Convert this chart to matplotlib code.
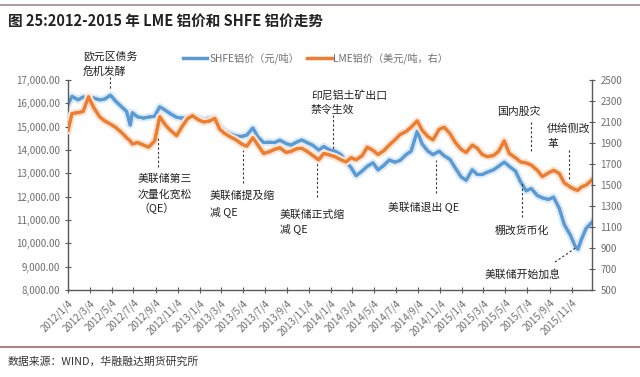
import matplotlib
matplotlib.use("Agg")
import matplotlib.pyplot as plt
import matplotlib.patheffects as pe
from matplotlib.lines import Line2D
import pandas as pd

plt.rcParams['font.family'] = ['Noto Sans CJK SC', 'DejaVu Sans']

# half-month readings, plus a few extra points at spikes
dates = [
    "2012-01-04", "2012-01-15", "2012-02-01", "2012-02-15", "2012-03-01", "2012-03-15",
    "2012-04-01", "2012-04-15", "2012-05-01", "2012-05-15", "2012-06-01", "2012-06-15",
    "2012-06-25", "2012-07-01", "2012-07-15", "2012-08-01", "2012-08-15", "2012-09-01",
    "2012-09-15", "2012-10-01", "2012-10-15", "2012-11-01", "2012-11-15", "2012-12-01",
    "2012-12-15",
    "2013-01-01", "2013-01-15", "2013-02-01", "2013-02-15", "2013-03-01", "2013-03-15",
    "2013-04-01", "2013-04-15", "2013-05-01", "2013-05-15", "2013-06-01", "2013-06-15",
    "2013-07-01", "2013-07-15", "2013-08-01", "2013-08-15", "2013-09-01", "2013-09-15",
    "2013-10-01", "2013-10-15", "2013-11-01", "2013-11-15", "2013-12-01", "2013-12-15",
    "2014-01-01", "2014-01-15", "2014-02-01", "2014-02-15", "2014-03-01", "2014-03-15",
    "2014-04-01", "2014-04-15", "2014-05-01", "2014-05-15", "2014-06-01", "2014-06-15",
    "2014-07-01", "2014-07-15", "2014-08-01", "2014-08-15", "2014-09-01", "2014-09-15",
    "2014-10-01", "2014-10-15", "2014-11-01", "2014-11-15", "2014-12-01", "2014-12-15",
    "2015-01-01", "2015-01-15", "2015-02-01", "2015-02-15", "2015-03-01", "2015-03-15",
    "2015-04-01", "2015-04-15", "2015-05-01", "2015-05-15", "2015-06-01", "2015-06-15",
    "2015-07-01", "2015-07-15", "2015-08-01", "2015-08-15", "2015-09-01", "2015-09-15",
    "2015-10-01", "2015-10-15", "2015-11-01", "2015-11-15", "2015-11-22", "2015-12-01",
    "2015-12-15", "2015-12-31",
]

# SHFE aluminium, yuan/ton (left axis)
shfe = [
    15950, 16300, 16150, 16270, 16230, 16230, 16150, 16180, 16350, 16100, 15850, 15650,
    15070, 15600, 15420, 15370, 15410, 15450, 15850, 15700, 15550, 15400, 15370, 15380,
    15410,
    15370, 15290, 15350, 15370, 15000, 14800, 14680, 14600, 14580, 14640, 14940, 14560,
    14320, 14330, 14320, 14420, 14280, 14210, 14340, 14430, 14300, 14200, 14000, 14150,
    14000, 13950, 13800, 13500, 13250, 12900, 13100, 13300, 13450, 13150, 13350, 13570,
    13480, 13550, 13800, 13950, 14800, 14250, 13950, 13800, 13950, 13750, 13600, 13250,
    12850, 12700, 13150, 12950, 12950, 13050, 13150, 13300, 13480, 13300, 13100, 12650,
    12250, 12350, 12050, 11950, 11880, 11980, 11500, 10800, 10350, 9850, 9750, 10150,
    10650, 10900,
]

# LME aluminium, usd/ton (right axis)
lme = [
    2020, 2180, 2190, 2200, 2340, 2240, 2150, 2110, 2080, 2050, 2000, 1950,
    1920, 1890, 1905, 1880, 1860, 1920, 2150, 2070, 2020, 1970, 2050, 2130,
    2160,
    2120, 2100, 2110, 2135, 2030, 1990, 1955, 1930, 1890, 1870, 1950, 1880,
    1800, 1815, 1840, 1855, 1810, 1820, 1845, 1850, 1815, 1780, 1740, 1800,
    1785, 1770, 1740, 1720, 1760, 1740, 1780, 1860, 1830, 1790, 1830, 1880,
    1930, 1980, 2010, 2050, 2110, 2020, 1960, 1930, 2030, 2050, 1990, 1910,
    1840, 1810, 1880, 1850, 1790, 1770, 1780, 1820, 1920, 1800, 1760, 1720,
    1710, 1690, 1640, 1580, 1615, 1640, 1610, 1520, 1480, 1455, 1450, 1480,
    1500, 1550,
]

tick_dates = [
    "2012-01-04", "2012-03-04", "2012-05-04", "2012-07-04", "2012-09-04", "2012-11-04",
    "2013-01-04", "2013-03-04", "2013-05-04", "2013-07-04", "2013-09-04", "2013-11-04",
    "2014-01-04", "2014-03-04", "2014-05-04", "2014-07-04", "2014-09-04", "2014-11-04",
    "2015-01-04", "2015-03-04", "2015-05-04", "2015-07-04", "2015-09-04", "2015-11-04",
]

# (text lines, text x, first line y, line gap, dashed line x1, y1, x2, y2) in pixels
notes = [
    (["欧元区债务", "危机发酵"], 83, 57, 15, 110, 77, 110, 90),
    (["美联储第三", "次量化宽松", "（QE）"], 138, 179, 15, 158, 167, 158, 137),
    (["美联储提及缩", "减 QE"], 210, 196, 16, 243, 183, 243, 150),
    (["美联储正式缩", "减 QE"], 280, 215, 14, 317, 197, 317, 163),
    (["印尼铝土矿出口", "禁令生效"], 311, 95, 15, 333, 115, 333, 150),
    (["美联储退出 QE"], 388, 207, 0, 436, 193, 436, 160),
    (["国内股灾"], 497, 112, 0, 531, 122, 531, 153),
    (["棚改货币化"], 495, 231, 0, 522, 217, 522, 183),
    (["供给侧改", "革"], 547, 129, 15, 569, 150, 569, 180),
    (["美联储开始加息"], 485, 275, 0, 555, 262, 577, 247),
]

W, H = 640, 377
blue = "#5b9bd5"
orange = "#ed7d31"
grey = "#6e6e6e"


def fx(x):
    return x / W


def fy(y):
    return 1 - y / H


d = pd.to_datetime(dates)
fig = plt.figure(figsize=(6.4, 3.77), dpi=100)
ax = fig.add_axes([fx(68), fy(290), fx(592) - fx(68), fy(80) - fy(290)])
ax2 = ax.twinx()

glow_b = [pe.withStroke(linewidth=5.5, foreground="#dde9f5"), pe.Normal()]
glow_o = [pe.withStroke(linewidth=5.5, foreground="#fbe3d4"), pe.Normal()]
ax.plot(d, shfe, color=blue, lw=2.2, path_effects=glow_b, solid_joinstyle="round")
ax2.plot(d, lme, color=orange, lw=2.2, path_effects=glow_o, solid_joinstyle="round")

ax.set_xlim(pd.Timestamp("2012-01-04"), pd.Timestamp("2015-12-31"))
ax.set_ylim(8000, 17000)
ax.set_yticks(range(8000, 17001, 1000))
ax.set_yticklabels([f"{v:,.2f}" for v in range(8000, 17001, 1000)])
ax2.set_ylim(500, 2500)
ax2.set_yticks(range(500, 2501, 200))

td = pd.to_datetime(tick_dates)
ax.set_xticks(td)
ax.set_xticklabels([f"{t.year}/{t.month}/{t.day}" for t in td], rotation=45,
                   ha="right", rotation_mode="anchor", fontsize=6.2, color=grey)

for a in (ax, ax2):
    a.spines["top"].set_visible(False)
    for s in a.spines.values():
        s.set_color("#595959")
        s.set_linewidth(1)
    a.tick_params(axis="both", direction="inout", length=5, width=0.8, color="#595959",
                  labelcolor=grey, labelsize=7)
ax.spines["right"].set_visible(False)
ax2.spines["left"].set_visible(False)
ax2.spines["bottom"].set_visible(False)
ax.tick_params(axis="x", pad=3)

# legend
fig.add_artist(Line2D([fx(183), fx(207)], [fy(58), fy(58)], color=blue, lw=2.5))
fig.text(fx(209), fy(58), "SHFE铝价（元/吨）", fontsize=7.3, color=grey, va="center")
fig.add_artist(Line2D([fx(307), fx(332)], [fy(58), fy(58)], color=orange, lw=2.5))
fig.text(fx(333), fy(58), "LME铝价（美元/吨，右）", fontsize=7.3, color=grey, va="center")

# event notes
for lines, tx, ty, gap, x1, y1, x2, y2 in notes:
    for i, s in enumerate(lines):
        fig.text(fx(tx), fy(ty + i * gap), s, fontsize=7.8, color="#222222", va="center")
    fig.add_artist(Line2D([fx(x1), fx(x2)], [fy(y1), fy(y2)], color="#333333",
                          lw=0.8, ls=(0, (2, 2))))

# title, rules and source
fig.add_artist(Line2D([0, 1], [fy(5), fy(5)], color="#a08888", lw=1.2))
fig.text(fx(8), fy(21), "图 25:2012-2015 年 LME 铝价和 SHFE 铝价走势", fontsize=10.5,
         fontweight="bold", color="#222222", va="center")
fig.add_artist(Line2D([0, 1], [fy(347), fy(347)], color="#a06868", lw=1.2))
fig.text(fx(8), fy(362), "数据来源：WIND，华融融达期货研究所", fontsize=7.8,
         color="#333333", va="center")

fig.savefig("out.png", dpi=100)
